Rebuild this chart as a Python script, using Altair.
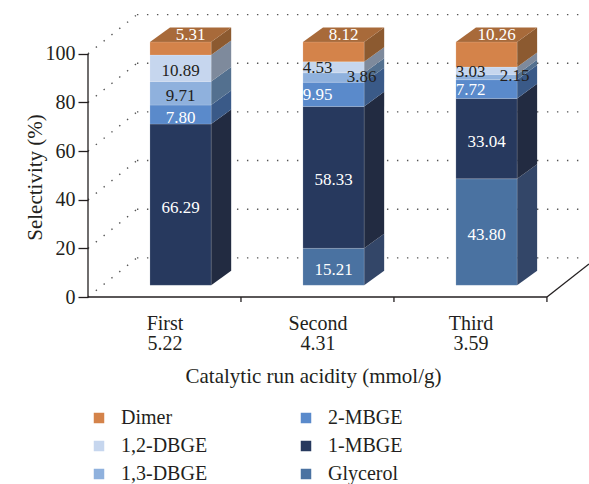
import altair as alt
import pandas as pd

# ---------------- data ----------------
runs = ["First", "Second", "Third"]
acidity = ["5.22", "4.31", "3.59"]
series = ["Glycerol", "1-MBGE", "2-MBGE", "1,3-DBGE", "1,2-DBGE", "Dimer"]  # bottom -> top
glycerol = [0.00, 15.21, 43.80]
mbge1 = [66.29, 58.33, 33.04]
mbge2 = [7.80, 9.95, 7.72]
dbge13 = [9.71, 3.86, 2.15]
dbge12 = [10.89, 4.53, 3.03]
dimer = [5.31, 8.12, 10.26]
y_ticks = [0, 20, 40, 60, 80, 100]
x_ticks = [1, 2, 3]

values = dict(zip(series, [glycerol, mbge1, mbge2, dbge13, dbge12, dimer]))

# ---------------- style ----------------
FONT = "Liberation Serif"
INK = "#231F20"
front_colors = dict(zip(series, ["#4A72A1", "#27395E", "#5A8ACB", "#8FB1DD", "#C6D6EE", "#D4834A"]))
side_colors = dict(zip(series, ["#334668", "#222B41", "#3A5A88", "#53708F", "#7E8A9C", "#8C5A30"]))
top_color = "#A86A3A"
legend_order = ["Dimer", "1,2-DBGE", "1,3-DBGE", "2-MBGE", "1-MBGE", "Glycerol"]

# 3-D look (in scale units)
FRONT_L, FRONT_R = 0.405, 0.805
DX, DY = 0.131, 6.0
LIFT = 4.8
WALL_X, WALL_Y = 0.32, 16.1
GRID_END = 3.23
X_MAX, Y_MAX = 3.275, 118
FLOOR_RISE = 13.6

xs = alt.Scale(domain=[0, X_MAX], nice=False, zero=False)
ys = alt.Scale(domain=[0, Y_MAX], nice=False, zero=False)

# ---------------- geometry tables ----------------
seg_rows, side_rows, top_rows = [], [], []
for i, run in enumerate(runs):
    base = 0.0
    for s in series:
        v = values[s][i]
        if v <= 0:
            continue
        y0, y1 = base + LIFT, base + v + LIFT
        l, r = i + FRONT_L, i + FRONT_R
        seg_rows.append(dict(run=run, series=s, value=v, label=f"{v:.2f}",
                             y0=y0, y1=y1, ymid=(y0 + y1) / 2, l=l, r=r, mid=(l + r) / 2))
        key = f"{run}|{s}"
        side_rows.append(dict(key=key, series=s, x=r, y=y0, y2=y1))
        side_rows.append(dict(key=key, series=s, x=r + DX, y=y0 + DY, y2=y1 + DY))
        base += v
    top = base + LIFT
    top_rows.append(dict(run=run, y=top, x=i + FRONT_L, x2=i + FRONT_R))
    top_rows.append(dict(run=run, y=top + DY, x=i + FRONT_L + DX, x2=i + FRONT_R + DX))

segs = pd.DataFrame(seg_rows)
sides = pd.DataFrame(side_rows)
tops = pd.DataFrame(top_rows)

grid_rows = []
for v in y_ticks:
    grid_rows.append(dict(x0=WALL_X, x1=GRID_END, y0=v + WALL_Y, y1=v + WALL_Y))
    grid_rows.append(dict(x0=0, x1=WALL_X, y0=v, y1=v + WALL_Y))
grid = pd.DataFrame(grid_rows)

frame = pd.DataFrame([
    dict(x0=0, x1=0, y0=0, y1=y_ticks[-1]),
    dict(x0=0, x1=x_ticks[-1], y0=0, y1=0),
    dict(x0=x_ticks[-1], x1=X_MAX, y0=0, y1=FLOOR_RISE),
] + [dict(x0=t, x1=t, y0=0, y1=-2.1) for t in x_ticks])

# ---------------- axes (shared by every layer) ----------------
label_expr = "".join(
    f"datum.value < {i + 1} ? ['{r}', '{a}'] : " for i, (r, a) in enumerate(zip(runs[:-1], acidity[:-1]))
) + f"['{runs[-1]}', '{acidity[-1]}']"

XAX = alt.Axis(
    values=[i + 0.5 for i in range(len(runs))], labelExpr=label_expr, ticks=False, tickSize=0,
    domain=False, grid=False, labelFont=FONT, labelFontSize=20, labelColor=INK,
    labelPadding=16, labelBaseline="top", labelLineHeight=20,
    title="Catalytic run acidity (mmol/g)", titleFont=FONT, titleFontSize=21,
    titleFontWeight="normal", titleColor=INK, titleX=225, titleY=85,
    titleBaseline="alphabetic", titleAnchor="middle", titleAlign="center")

YAX = alt.Axis(
    values=y_ticks, domain=False, grid=False, tickSize=10, tickColor=INK, tickWidth=1.3,
    labelFont=FONT, labelFontSize=20, labelColor=INK, labelPadding=3,
    title="Selectivity (%)", titleFont=FONT, titleFontSize=21, titleFontWeight="normal",
    titleColor=INK, titleX=-47, titleY=167, titleAngle=-90, titleAlign="center",
    titleBaseline="alphabetic")


def X(f):
    return alt.X(f, scale=xs, axis=XAX)


def Y(f):
    return alt.Y(f, scale=ys, axis=YAX)


grid_layer = alt.Chart(grid).mark_rule(
    color="#555555", strokeWidth=1.4, strokeDash=[1.4, 8.6]
).encode(x=X("x0:Q"), x2="x1:Q", y=Y("y0:Q"), y2="y1:Q")

frame_layer = alt.Chart(frame).mark_rule(color=INK, strokeWidth=1.3).encode(
    x=X("x0:Q"), x2="x1:Q", y=Y("y0:Q"), y2="y1:Q")

side_layer = alt.Chart(sides).mark_area(orient="vertical").encode(
    x=X("x:Q"), y=Y("y:Q"), y2="y2:Q", detail="key:N",
    color=alt.Color("series:N", scale=alt.Scale(domain=series, range=[side_colors[s] for s in series]),
                    legend=None))

top_layer = alt.Chart(tops).mark_area(orient="horizontal", color=top_color).encode(
    y=Y("y:Q"), x=X("x:Q"), x2="x2:Q", detail="run:N")

front_layer = alt.Chart(segs).mark_rect(stroke="#ffffff", strokeOpacity=0.25, strokeWidth=0.6).encode(
    x=X("l:Q"), x2="r:Q", y=Y("y0:Q"), y2="y1:Q",
    color=alt.Color("series:N",
                    scale=alt.Scale(domain=legend_order, range=[front_colors[s] for s in legend_order]),
                    legend=alt.Legend(orient="none", legendX=1, legendY=398, columns=2, title=None,
                                      symbolType="square", symbolSize=110, symbolStrokeWidth=0,
                                      labelFont=FONT, labelFontSize=20, labelColor=INK,
                                      labelOffset=12, columnPadding=88, rowPadding=8)))

light = ["1,3-DBGE", "1,2-DBGE"]
txt_color = alt.condition(alt.FieldOneOfPredicate(field="series", oneOf=light),
                          alt.value(INK), alt.value("#ffffff"))

small_dbge = "(datum.series == '1,3-DBGE' || datum.series == '1,2-DBGE') && datum.value < 6"
shifted_mbge = f"datum.series == '2-MBGE' && datum.run != '{runs[0]}'"


def text_layer(flt, dx, dy, yfield="ymid:Q"):
    return alt.Chart(segs).transform_filter(flt).mark_text(
        font=FONT, fontSize=17, dx=dx, dy=dy, baseline="middle", align="center"
    ).encode(x=X("mid:Q"), y=Y(yfield), text="label:N", color=txt_color)


t_center = text_layer(f"datum.series != 'Dimer' && !({small_dbge}) && !({shifted_mbge})", 0, 3)
t_left = text_layer(f"(datum.series == '1,2-DBGE' && datum.value < 6) || ({shifted_mbge})", -16, 1)
t_right = text_layer("datum.series == '1,3-DBGE' && datum.value < 6", 28, -1)
t_top = text_layer("datum.series == 'Dimer'", 10, -7, yfield="y1:Q")

chart = alt.layer(
    grid_layer, frame_layer, side_layer, top_layer, front_layer,
    t_center, t_left, t_right, t_top
).resolve_scale(color="independent").properties(
    width=501, height=287,
    padding={"left": 88, "top": 10, "right": 0, "bottom": 187},
    autosize=alt.AutoSizeParams(type="none"),
).configure(font=FONT).configure_view(stroke=None)

chart.save("out.html", embed_options={"renderer": "svg", "actions": False})
